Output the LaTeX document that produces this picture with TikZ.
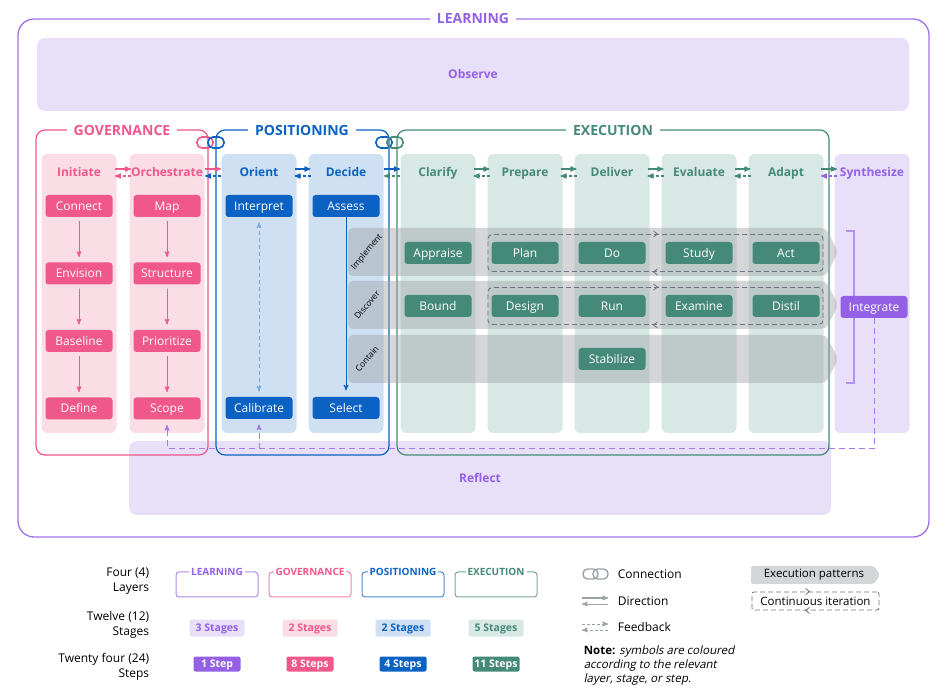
\documentclass[tikz,border=0pt]{standalone}
\usepackage{fontspec}
\setmainfont{Open Sans}
\newfontfamily\noteit{Open Sans}[FakeSlant=0.2]
\usetikzlibrary{calc}
\usetikzlibrary{arrows}
\usetikzlibrary{fit}
\usepackage{xcolor}

\definecolor{lrn}{HTML}{9461E6}
\definecolor{ltlrn}{HTML}{E8E0F8}
\definecolor{gov}{HTML}{F0578A}
\definecolor{ltgov}{HTML}{FBDDE6}
\definecolor{psn}{HTML}{0B62C3}
\definecolor{ltpsn}{HTML}{CFE0F3}
\definecolor{exe}{HTML}{458A79}
\definecolor{ltexe}{HTML}{D8E8E4}
\definecolor{pat}{HTML}{A0A4A9}
\definecolor{itr}{HTML}{6E7482}
\definecolor{lgd}{HTML}{9CA1A8}

\begin{document}
\begin{tikzpicture}[x=1pt, y=-1pt, >=stealth', line width=1,
  layerbox/.style={rounded corners=9, line width=1.2},
  layertitle/.style={fill=white, inner xsep=7, inner ysep=1, font=\fontsize{14}{16}\bfseries},
  stagecol/.style={rounded corners=6, minimum width=75, minimum height=279, inner sep=0},
  stagelbl/.style={font=\fontsize{12}{14}\bfseries, text height=10, text depth=1.5},
  stepbox/.style={rounded corners=3, minimum width=67, minimum height=22, inner sep=0, text height=10, text depth=1.5, text=white, font=\fontsize{12}{14}\selectfont},
  patlbl/.style={rotate=50, inner sep=0, font=\fontsize{8.5}{9}\selectfont},
  loopbox/.style={draw=itr, dash pattern=on 5pt off 3pt, line width=.9, rounded corners=4, inner xsep=3, inner ysep=7},
  fbk/.style={lrn!85, dash pattern=on 6pt off 4pt, shorten >=5},
  keytxt/.style={anchor=west, font=\fontsize{12}{15}\selectfont},
  chip/.style={rounded corners=2, inner sep=0, minimum height=17, text height=8, text depth=1, font=\fontsize{10.5}{11}\bfseries}]
\useasboundingbox (0,0) rectangle (946,700);

% learning layer
\draw[lrn!90, rounded corners=16, line width=1.3] (18,19) rectangle (929,537);
\node[layertitle, text=lrn] (learning) at (473,19) {LEARNING};
\node[fill=ltlrn, rounded corners=8, minimum width=872, minimum height=73, text=lrn, stagelbl] (Observe) at (473,74.5) {Observe};
\node[fill=ltlrn, rounded corners=8, minimum width=702, minimum height=74, text=lrn, stagelbl] (Reflect) at (480,478) {Reflect};

% stages
\foreach \x/\s/\c in {79/Initiate/gov, 167/Orchestrate/gov, 259/Orient/psn, 346/Decide/psn, 438/Clarify/exe, 525/Prepare/exe, 612/Deliver/exe, 699/Evaluate/exe, 786/Adapt/exe, 872/Synthesize/lrn} {
  \node[stagecol, fill=lt\c] (col-\s) at (\x,293.5) {};
  \node[stagelbl, text=\c] (\s) at (\x,172) {\s};
}

% layers
\draw[gov, layerbox] (36,130) rectangle (208,455);
\draw[psn, layerbox] (216,130) rectangle (389,455);
\draw[exe, layerbox] (397,130) rectangle (829,455);
\node[layertitle, text=gov] (governance) at (122,130) {GOVERNANCE};
\node[layertitle, text=psn] (positioning) at (302,130) {POSITIONING};
\node[layertitle, text=exe] (execution) at (613,130) {EXECUTION};
\foreach \x/\a/\b in {205/gov/psn, 384/psn/exe} {
  \draw[\a, line width=1.6, rounded corners=5] (\x-8,137) rectangle (\x+8,148);
  \draw[\b, line width=1.6, rounded corners=5] (\x+3,137) rectangle (\x+19,148);
}

% direction and feedback between stages
\foreach \a/\b/\ca/\cb in {Initiate/Orchestrate/gov/gov, Orchestrate/Orient/gov/psn, Orient/Decide/psn/psn, Decide/Clarify/psn/exe, Clarify/Prepare/exe/exe, Prepare/Deliver/exe/exe, Deliver/Evaluate/exe/exe, Evaluate/Adapt/exe/exe, Adapt/Synthesize/exe/lrn} {
  \path ($(col-\a.east)!.5!(col-\b.west)$) coordinate (g);
  \draw[\ca, ->, line width=1.2] ($(g |- \a)+(-8,-3)$) -- ++(16,0);
  \draw[\cb, ->, line width=1.2, dash pattern=on 3pt off 2pt] ($(g |- \a)+(8,4)$) -- ++(-16,0);
}

% governance and positioning steps
\foreach \s [count=\i from 0] in {Connect,Envision,Baseline,Define}
  \node[stepbox, fill=gov] (\s) at (79,206+67.5*\i) {\s};
\foreach \s [count=\i from 0] in {Map,Structure,Prioritize,Scope}
  \node[stepbox, fill=gov] (\s) at (167,206+67.5*\i) {\s};
\foreach \a/\b in {Connect/Envision,Envision/Baseline,Baseline/Define,Map/Structure,Structure/Prioritize,Prioritize/Scope}
  \draw[gov, ->, shorten <=4, shorten >=5] (\a) -- (\b);
\node[stepbox, fill=psn] (Interpret) at (259,206) {Interpret};
\node[stepbox, fill=psn] (Calibrate) at (259,408) {Calibrate};
\node[stepbox, fill=psn] (Assess) at (346,206) {Assess};
\node[stepbox, fill=psn] (Select) at (346,408) {Select};
\draw[psn!55, <->, dash pattern=on 4pt off 3pt, shorten <=5, shorten >=5] (Interpret) -- (Calibrate);
\draw[psn, ->, shorten >=6] (Assess) -- (Select);

% execution patterns
\foreach \y/\p in {228/Implement, 281/Discover, 335/Contain} {
  \fill[pat, opacity=.45, rounded corners=5] (348,\y) -- (826,\y) -- (838,\y+24) -- (826,\y+48) -- (348,\y+48) -- cycle;
  \node[patlbl] (\p) at (367,\y+24) {\p};
}
\foreach \s/\x/\y in {Appraise/438/253, Plan/525/253, Do/612/253, Study/699/253, Act/786/253, Bound/438/306, Design/525/306, Run/612/306, Examine/699/306, Distil/786/306, Stabilize/612/359}
  \node[stepbox, fill=exe] (\s) at (\x,\y) {\s};
\foreach \a/\b in {Plan/Act, Design/Distil} {
  \node[loopbox, fit=(\a)(\b)] (loop-\a) {};
  \draw[itr, line width=.8] ($(loop-\a.north)+(-2,-3)$) -- ++(4,3) -- ++(-4,3);
  \draw[itr, line width=.8] ($(loop-\a.south)+(2,-3)$) -- ++(-4,3) -- ++(4,3);
}

% synthesize
\draw[lrn!70, line width=1.2] (846,231) -| (854,383) -- (846,383);
\node[stepbox, fill=lrn] (Integrate) at (874,307) {Integrate};
\coordinate (fb) at (0,449);
\draw[fbk, ->] (Integrate.south) -- (Integrate.south |- fb) -| (Scope.south);
\draw[fbk, ->] (Calibrate.south |- fb) -- (Calibrate.south);

% key
\node[keytxt, anchor=east, align=right] (key-layers) at (153,581) {Four (4)\\Layers};
\node[keytxt, anchor=east, align=right] (key-stages) at (153,625) {Twelve (12)\\Stages};
\node[keytxt, anchor=east, align=right] (key-steps) at (153,667) {Twenty four (24)\\Steps};
\foreach \x/\t/\c/\st/\sp in {217/LEARNING/lrn/3 Stages/1 Step, 310/GOVERNANCE/gov/2 Stages/8 Steps, 403/POSITIONING/psn/2 Stages/4 Steps, 496/EXECUTION/exe/5 Stages/11 Steps} {
  \draw[\c!75, rounded corners=3] (\x-41,572) rectangle (\x+41,597);
  \node[fill=white, text=\c, inner xsep=2, inner ysep=0, font=\fontsize{10}{11}\bfseries] (key-\t) at (\x,572) {\t};
  \node[chip, fill=lt\c, text=\c, minimum width=55] (stg-\t) at (\x,628) {\st};
  \node[chip, fill=\c, text=white, minimum width=47, minimum height=15] (stp-\t) at (\x,664) {\sp};
}
\node[keytxt] (conn) at (614,574) {Connection};
\node[keytxt] (dir) at (614,601) {Direction};
\node[keytxt] (feed) at (614,627) {Feedback};
\draw[lgd, line width=1.4, rounded corners=4.5] ($(conn.west)+(-31,-5)$) rectangle ++(15,10);
\draw[lgd, line width=1.4, rounded corners=4.5] ($(conn.west)+(-21,-5)$) rectangle ++(15,10);
\draw[lgd, ->] ($(dir.west)+(-32,-3)$) -- ++(26,0);
\draw[lgd, ->] ($(dir.west)+(-6,3)$) -- ++(-26,0);
\draw[lgd, ->, dash pattern=on 3pt off 2pt] ($(feed.west)+(-32,-3)$) -- ++(26,0);
\draw[lgd, ->, dash pattern=on 3pt off 2pt] ($(feed.west)+(-6,3)$) -- ++(-26,0);
\node[keytxt, align=left, font=\fontsize{11.5}{14}\selectfont] (note) at (580,666) {\textbf{Note:} \noteit symbols are coloured\\\noteit according to the relevant\\\noteit layer, stage, or step.};
\fill[pat, opacity=.45, rounded corners=2] (751,566) -- (874,566) -- (880,575) -- (874,584) -- (751,584) -- cycle;
\node[font=\fontsize{11.5}{13}\selectfont] (patkey) at (814,575) {Execution patterns};
\node[loopbox, inner sep=0, minimum width=127, minimum height=18, rounded corners=2, font=\fontsize{11.5}{13}\selectfont] (loopkey) at (815.5,601) {Continuous iteration};
\draw[itr, line width=.8] ($(loopkey.north)+(-10,-3)$) -- ++(4,3) -- ++(-4,3);
\draw[itr, line width=.8] ($(loopkey.south)+(-6,-3)$) -- ++(-4,3) -- ++(4,3);
\end{tikzpicture}
\end{document}
